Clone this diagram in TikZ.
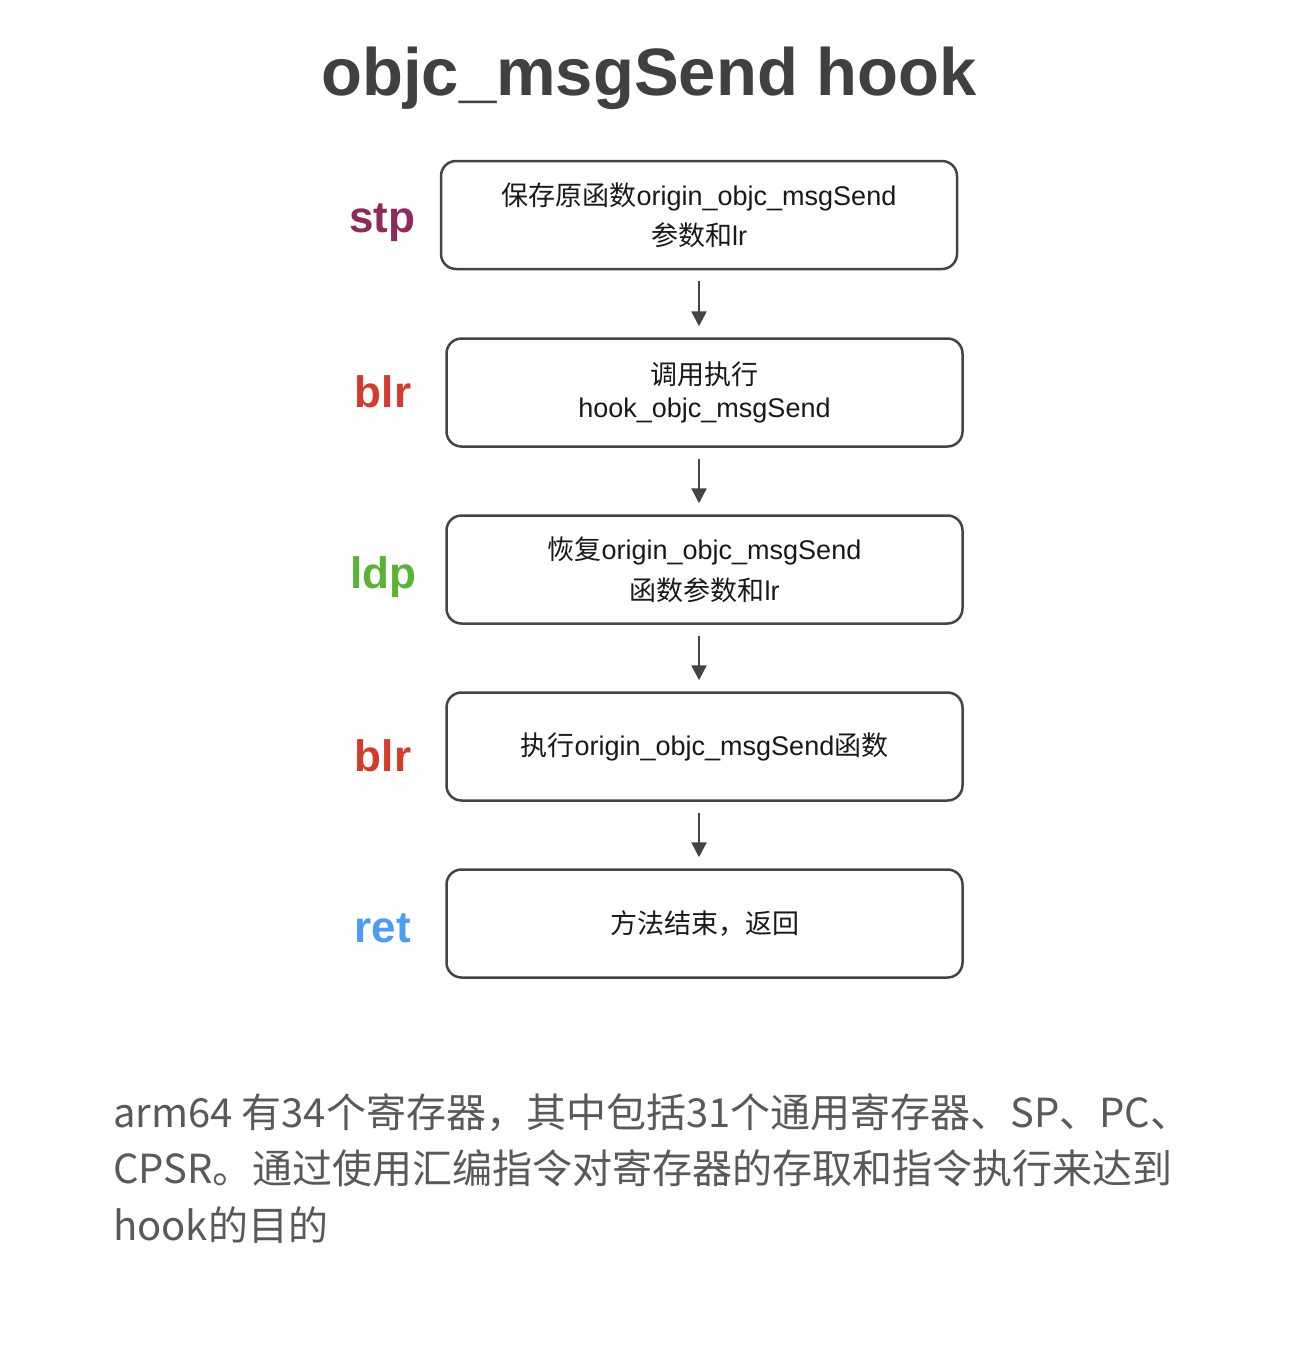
\documentclass[tikz,border=0pt]{standalone}
\usepackage{fontspec}
\setmainfont{Liberation Sans}
\newfontfamily\cjk{Noto Sans CJK SC}
\usetikzlibrary{arrows.meta}
\definecolor{titlegray}{HTML}{404040}
\definecolor{boxline}{HTML}{444444}
\definecolor{stpcol}{HTML}{8E2B5E}
\definecolor{blrcol}{HTML}{D33C2A}
\definecolor{ldpcol}{HTML}{5AB334}
\definecolor{retcol}{HTML}{4A9CF5}
\definecolor{paragray}{HTML}{595959}
\newcommand\zh[1]{{\cjk #1}}
\begin{document}
\begin{tikzpicture}[x=1pt,y=-1pt,
  stepbox/.style={draw=boxline, line width=2.5pt, rounded corners=15pt,
    minimum width=516pt, minimum height=108pt, inner sep=0pt,
    align=center, text=black!90},
  oplabel/.style={font=\fontsize{44}{44}\selectfont\bfseries, anchor=base},
  flowarrow/.style={draw=boxline, line width=2.5pt, shorten <=11pt, shorten >=11pt,
    -{Triangle[length=15pt,width=15pt]}},
  paraline/.style={font=\cjk\fontsize{40}{40}\selectfont, text=paragray, anchor=base west, inner sep=0pt}
  ]
\useasboundingbox (0,0) rectangle (1308,1358);
\fill[white] (0,0) rectangle (1308,1358);

\node[font=\fontsize{67}{67}\selectfont\bfseries, text=titlegray, anchor=base] (title) at (649,95) {objc\_msgSend hook};

\node[stepbox, font=\fontsize{27}{40}\selectfont] (b1) at (699,215)
  {\zh{保存原函数}origin\_objc\_msgSend\\\zh{参数和}lr};
\node[stepbox, font=\fontsize{27}{33}\selectfont] (b2) at (704.5,392.5)
  {\zh{调用执行}\\hook\_objc\_msgSend};
\node[stepbox, font=\fontsize{27}{41}\selectfont] (b3) at (704.5,569.5)
  {\zh{恢复}origin\_objc\_msgSend\\\zh{函数参数和}lr};
\node[stepbox, font=\fontsize{27}{40}\selectfont] (b4) at (704.5,746.5)
  {\zh{执行}origin\_objc\_msgSend\zh{函数}};
\node[stepbox, font=\cjk\fontsize{27}{40}\selectfont] (b5) at (704.5,923.5)
  {方法结束，返回};

\node[oplabel, text=stpcol] (l1) at (382,232) {stp};
\node[oplabel, text=blrcol] (l2) at (383,407) {blr};
\node[oplabel, text=ldpcol] (l3) at (383,588) {ldp};
\node[oplabel, text=blrcol] (l4) at (383,771) {blr};
\node[oplabel, text=retcol] (l5) at (383,942) {ret};

\draw[flowarrow] (b1.south) -- (b1.south |- b2.north);
\draw[flowarrow] (b1.south |- b2.south) -- (b1.south |- b3.north);
\draw[flowarrow] (b1.south |- b3.south) -- (b1.south |- b4.north);
\draw[flowarrow] (b1.south |- b4.south) -- (b1.south |- b5.north);

\node[paraline] (p1) at (113,1127) {arm64 有34个寄存器，其中包括31个通用寄存器、SP、PC、};
\node[paraline] (p2) at (113,1183) {CPSR。通过使用汇编指令对寄存器的存取和指令执行来达到};
\node[paraline] (p3) at (113,1240) {hook的目的};
\end{tikzpicture}
\end{document}
